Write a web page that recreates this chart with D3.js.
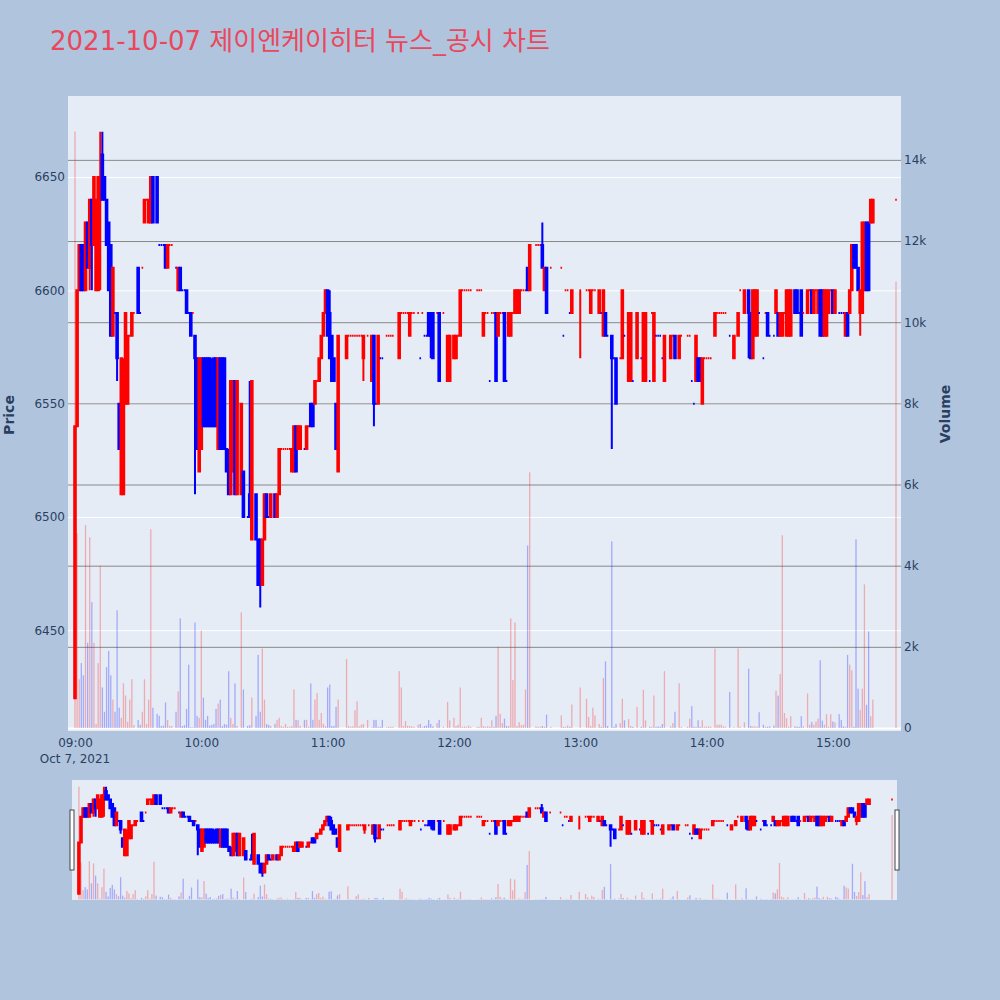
<!DOCTYPE html>
<html>
<head>
<meta charset="utf-8">
<script src="https://cdn.jsdelivr.net/npm/d3@7"></script>
<style>
  body { margin: 0; background: #b0c4de; }
  text { font-family: "DejaVu Sans", "Noto Sans CJK KR", sans-serif; }
</style>
</head>
<body>
<div id="chart"></div>
<script>
const tradeDay = "2021-10-07";
const title = "2021-10-07 제이엔케이히터 뉴스_공시 차트";

const times = [
  "09:00","09:01","09:02","09:03","09:04","09:05","09:06","09:07","09:08","09:09",
  "09:10","09:11","09:12","09:13","09:14","09:15","09:16","09:17","09:18","09:19",
  "09:20","09:21","09:22","09:23","09:24","09:25","09:26","09:27","09:28","09:30",
  "09:31","09:32","09:33","09:34","09:35","09:36","09:37","09:39","09:40","09:41",
  "09:42","09:43","09:44","09:45","09:46","09:48","09:49","09:50","09:51","09:52",
  "09:53","09:54","09:55","09:56","09:57","09:58","09:59","10:00","10:01","10:02",
  "10:03","10:04","10:05","10:06","10:07","10:08","10:09","10:10","10:11","10:12",
  "10:13","10:14","10:15","10:16","10:17","10:19","10:20","10:22","10:23","10:24",
  "10:26","10:27","10:28","10:29","10:30","10:31","10:32","10:33","10:35","10:36",
  "10:37","10:38","10:39","10:40","10:41","10:42","10:43","10:44","10:45","10:46",
  "10:47","10:49","10:50","10:51","10:52","10:53","10:54","10:55","10:56","10:57",
  "10:58","10:59","11:00","11:01","11:02","11:03","11:04","11:05","11:09","11:10",
  "11:11","11:12","11:13","11:14","11:15","11:16","11:17","11:19","11:21","11:22",
  "11:23","11:24","11:25","11:26","11:28","11:29","11:30","11:31","11:34","11:35",
  "11:36","11:37","11:38","11:39","11:40","11:41","11:43","11:44","11:45","11:46",
  "11:47","11:48","11:49","11:50","11:52","11:53","11:55","11:57","11:58","12:00",
  "12:01","12:02","12:03","12:04","12:05","12:06","12:07","12:08","12:11","12:12",
  "12:13","12:14","12:15","12:16","12:17","12:18","12:19","12:20","12:21","12:22",
  "12:23","12:24","12:25","12:26","12:27","12:28","12:29","12:30","12:31","12:32",
  "12:33","12:34","12:35","12:36","12:39","12:40","12:41","12:42","12:43","12:44",
  "12:46","12:51","12:52","12:53","12:54","12:55","12:56","13:00","13:03","13:04",
  "13:05","13:06","13:07","13:09","13:10","13:11","13:12","13:13","13:15","13:16",
  "13:17","13:19","13:20","13:21","13:23","13:24","13:25","13:27","13:29","13:30",
  "13:31","13:33","13:34","13:35","13:36","13:37","13:38","13:39","13:40","13:43",
  "13:44","13:45","13:47","13:48","13:51","13:52","13:53","13:54","13:55","13:56",
  "13:57","13:58","13:59","14:00","14:01","14:02","14:04","14:05","14:06","14:07",
  "14:08","14:09","14:11","14:13","14:15","14:16","14:18","14:20","14:21","14:22",
  "14:23","14:24","14:25","14:27","14:28","14:29","14:30","14:32","14:33","14:34",
  "14:35","14:36","14:37","14:38","14:39","14:40","14:42","14:43","14:44","14:45",
  "14:46","14:48","14:49","14:50","14:51","14:52","14:53","14:54","14:55","14:56",
  "14:57","14:58","14:59","15:00","15:01","15:03","15:04","15:05","15:06","15:07",
  "15:08","15:09","15:10","15:11","15:12","15:13","15:14","15:15","15:16","15:17",
  "15:18","15:19","15:30"
];

const open = [
  6420,6540,6600,6620,6620,6600,6630,6610,6640,6620,
  6600,6600,6640,6660,6650,6640,6630,6620,6580,6590,
  6590,6550,6510,6510,6550,6550,6580,6580,6590,6610,
  6590,6610,6630,6640,6630,6630,6650,6650,6620,6620,
  6620,6620,6610,6620,6620,6610,6600,6610,6600,6600,
  6600,6590,6590,6590,6580,6570,6520,6530,6570,6570,
  6570,6570,6560,6570,6570,6530,6570,6570,6570,6530,
  6520,6510,6520,6560,6510,6510,6520,6500,6510,6490,
  6510,6490,6490,6470,6490,6510,6500,6500,6510,6500,
  6510,6530,6530,6530,6530,6530,6520,6520,6540,6530,
  6530,6530,6530,6540,6550,6550,6550,6560,6560,6570,
  6580,6590,6600,6590,6580,6570,6550,6520,6570,6580,
  6580,6580,6580,6580,6580,6580,6570,6580,6560,6580,
  6550,6550,6570,6570,6580,6580,6580,6580,6570,6590,
  6590,6590,6590,6580,6590,6590,6590,6570,6590,6580,
  6580,6590,6590,6590,6590,6590,6590,6560,6560,6570,
  6570,6580,6580,6600,6600,6600,6600,6600,6600,6600,
  6600,6580,6590,6590,6560,6590,6590,6590,6580,6590,
  6590,6590,6560,6580,6580,6590,6590,6590,6590,6600,
  6600,6600,6610,6600,6620,6620,6620,6620,6600,6610,
  6610,6610,6580,6600,6600,6590,6590,6600,6600,6600,
  6590,6600,6600,6590,6590,6580,6590,6580,6580,6570,
  6570,6570,6570,6580,6560,6560,6560,6570,6570,6560,
  6560,6560,6590,6560,6580,6580,6580,6570,6560,6570,
  6580,6580,6570,6580,6580,6580,6560,6550,6560,6570,
  6570,6550,6570,6570,6570,6570,6580,6590,6590,6590,
  6590,6590,6580,6570,6580,6600,6590,6600,6590,6570,
  6580,6580,6590,6570,6590,6590,6580,6580,6590,6590,
  6580,6580,6590,6580,6580,6580,6600,6600,6590,6600,
  6590,6590,6600,6600,6590,6600,6590,6600,6600,6580,
  6580,6590,6600,6600,6590,6590,6590,6590,6580,6590,
  6590,6600,6620,6620,6610,6590,6590,6600,6630,6630,
  6630,6630,6640
];

const high = [
  6540,6600,6620,6620,6620,6630,6630,6640,6640,6650,
  6640,6650,6670,6670,6650,6640,6630,6620,6610,6590,
  6590,6550,6570,6570,6590,6580,6580,6590,6590,6610,
  6590,6610,6640,6640,6640,6650,6650,6650,6620,6620,
  6620,6620,6620,6620,6620,6610,6610,6610,6600,6600,
  6600,6590,6590,6590,6580,6570,6570,6570,6570,6570,
  6570,6570,6570,6570,6570,6570,6570,6570,6570,6530,
  6530,6560,6560,6560,6560,6550,6520,6500,6560,6560,
  6510,6490,6490,6490,6510,6510,6500,6510,6510,6510,
  6530,6530,6530,6530,6530,6530,6530,6540,6540,6540,
  6540,6530,6540,6540,6550,6550,6560,6560,6570,6580,
  6590,6600,6600,6600,6580,6570,6550,6580,6580,6580,
  6580,6580,6580,6580,6580,6580,6580,6580,6580,6580,
  6550,6580,6570,6570,6580,6580,6580,6580,6590,6590,
  6590,6590,6590,6590,6590,6590,6590,6570,6590,6580,
  6580,6590,6590,6590,6590,6590,6590,6580,6580,6580,
  6580,6580,6600,6600,6600,6600,6600,6600,6600,6600,
  6600,6590,6590,6590,6560,6590,6590,6590,6590,6590,
  6590,6590,6560,6590,6590,6590,6600,6600,6600,6600,
  6600,6600,6610,6620,6620,6620,6620,6630,6610,6610,
  6610,6610,6580,6600,6600,6590,6600,6600,6600,6600,
  6600,6600,6600,6600,6590,6600,6590,6580,6580,6570,
  6570,6570,6600,6580,6590,6590,6560,6590,6570,6590,
  6590,6560,6590,6590,6580,6580,6580,6570,6580,6580,
  6580,6580,6580,6580,6580,6580,6560,6550,6580,6570,
  6570,6570,6570,6570,6570,6570,6590,6590,6590,6590,
  6590,6590,6580,6580,6590,6600,6600,6600,6590,6600,
  6600,6600,6590,6570,6590,6590,6580,6580,6600,6590,
  6590,6590,6590,6600,6600,6600,6600,6600,6590,6600,
  6590,6600,6600,6600,6600,6600,6600,6600,6600,6600,
  6600,6600,6600,6600,6600,6590,6590,6590,6590,6590,
  6600,6620,6620,6620,6610,6600,6630,6630,6630,6630,
  6640,6640,6640
];

const low = [
  6420,6540,6600,6600,6600,6600,6610,6600,6600,6620,
  6600,6600,6600,6640,6640,6620,6600,6580,6580,6590,
  6560,6530,6510,6510,6550,6550,6580,6580,6590,6590,
  6590,6610,6630,6640,6630,6630,6630,6630,6620,6620,
  6620,6610,6610,6620,6620,6610,6600,6600,6600,6600,
  6590,6590,6580,6590,6510,6530,6520,6530,6540,6540,
  6540,6540,6540,6540,6540,6530,6530,6530,6530,6520,
  6510,6510,6520,6510,6510,6510,6500,6500,6500,6490,
  6490,6470,6460,6470,6490,6500,6500,6500,6500,6500,
  6510,6530,6530,6530,6530,6530,6520,6520,6520,6530,
  6530,6530,6530,6540,6540,6540,6550,6560,6560,6570,
  6580,6590,6580,6570,6560,6560,6530,6520,6570,6580,
  6580,6580,6580,6580,6580,6580,6560,6580,6560,6540,
  6550,6550,6570,6570,6580,6580,6580,6580,6570,6590,
  6590,6590,6590,6580,6590,6590,6590,6570,6590,6580,
  6580,6580,6570,6570,6590,6560,6590,6560,6560,6570,
  6570,6580,6580,6600,6600,6600,6600,6600,6600,6600,
  6600,6580,6590,6590,6560,6590,6590,6560,6580,6590,
  6590,6560,6560,6580,6580,6590,6590,6590,6590,6600,
  6600,6600,6600,6600,6620,6620,6620,6610,6600,6590,
  6610,6610,6580,6600,6600,6590,6590,6570,6600,6600,
  6590,6600,6600,6590,6590,6580,6580,6580,6530,6570,
  6550,6570,6570,6580,6560,6560,6560,6570,6570,6560,
  6560,6560,6590,6560,6580,6580,6580,6570,6560,6570,
  6580,6570,6570,6580,6580,6580,6560,6550,6560,6560,
  6560,6550,6570,6570,6570,6570,6580,6590,6590,6590,
  6590,6590,6580,6570,6580,6600,6590,6570,6570,6570,
  6580,6580,6590,6570,6590,6580,6580,6580,6590,6580,
  6580,6580,6590,6580,6580,6580,6590,6590,6590,6580,
  6590,6590,6600,6590,6590,6600,6590,6580,6580,6580,
  6580,6590,6600,6590,6590,6590,6590,6590,6580,6580,
  6590,6600,6610,6610,6600,6580,6590,6600,6600,6600,
  6630,6630,6640
];

const close = [
  6540,6600,6620,6600,6600,6630,6610,6640,6620,6650,
  6640,6650,6650,6640,6640,6620,6600,6580,6610,6590,
  6570,6530,6570,6560,6590,6580,6580,6590,6590,6590,
  6590,6610,6640,6640,6640,6650,6630,6630,6620,6620,
  6620,6610,6620,6620,6620,6610,6610,6600,6600,6600,
  6590,6590,6580,6590,6570,6530,6570,6570,6540,6540,
  6540,6540,6540,6540,6540,6570,6530,6530,6530,6520,
  6510,6560,6560,6510,6560,6550,6500,6500,6500,6560,
  6490,6470,6470,6490,6510,6500,6500,6510,6500,6510,
  6530,6530,6530,6530,6530,6530,6530,6540,6520,6540,
  6540,6530,6540,6540,6540,6540,6560,6560,6570,6580,
  6590,6600,6580,6570,6560,6560,6530,6580,6580,6580,
  6580,6580,6580,6580,6580,6580,6580,6580,6580,6550,
  6550,6580,6570,6570,6580,6580,6580,6580,6590,6590,
  6590,6590,6590,6590,6590,6590,6590,6570,6590,6580,
  6580,6580,6580,6570,6590,6560,6590,6580,6580,6580,
  6580,6580,6600,6600,6600,6600,6600,6600,6600,6600,
  6600,6590,6590,6590,6560,6590,6590,6560,6590,6590,
  6590,6560,6560,6590,6590,6590,6600,6600,6600,6600,
  6600,6600,6600,6620,6620,6620,6620,6610,6610,6590,
  6610,6610,6580,6600,6600,6590,6600,6600,6600,6600,
  6600,6600,6600,6600,6590,6600,6580,6580,6570,6570,
  6550,6570,6600,6580,6590,6590,6560,6590,6570,6590,
  6590,6560,6590,6590,6580,6580,6580,6570,6580,6580,
  6580,6570,6580,6580,6580,6580,6560,6550,6580,6560,
  6560,6570,6570,6570,6570,6570,6590,6590,6590,6590,
  6590,6590,6580,6580,6590,6600,6600,6590,6570,6600,
  6600,6600,6590,6570,6590,6580,6580,6580,6600,6580,
  6590,6590,6590,6600,6600,6600,6590,6590,6590,6580,
  6590,6600,6600,6590,6600,6600,6600,6580,6580,6600,
  6600,6600,6600,6590,6600,6590,6590,6590,6590,6580,
  6600,6620,6610,6610,6600,6600,6630,6630,6600,6600,
  6640,6640,6640
];

const volume = [
  14700,4800,1200,1600,1300,5000,2100,4700,3100,2100,
  100,1600,4000,1000,400,1500,1900,1300,700,400,
  2900,500,250,1100,800,150,700,1200,70,200,
  80,400,1200,100,700,4900,500,350,300,50,
  60,630,200,50,50,400,900,2700,50,70,
  470,1560,20,20,2600,300,250,2400,750,200,
  300,60,80,100,470,600,700,50,100,80,
  1400,250,100,1100,50,2850,950,50,70,750,
  300,1800,400,1960,700,100,80,50,100,200,
  250,50,30,100,30,30,50,950,200,200,
  50,200,200,30,1100,200,700,860,200,370,
  100,50,1000,1070,50,50,520,700,1700,50,
  30,40,440,660,40,80,100,200,20,200,
  200,30,30,200,20,30,30,30,1400,1000,
  50,170,50,50,40,30,80,100,20,50,
  60,200,100,40,120,200,30,640,190,250,
  50,80,1000,30,40,30,60,30,30,30,
  250,50,30,40,30,190,30,300,2000,350,
  120,230,50,50,2700,1180,2600,50,140,70,
  80,950,4500,6300,40,30,30,50,30,330,
  30,310,30,30,60,30,580,1000,720,270,
  50,500,310,100,30,1230,1640,50,4600,30,
  100,120,720,190,220,50,30,520,30,940,
  190,30,30,800,30,40,30,100,1400,40,
  120,400,1100,30,30,230,540,30,30,190,
  30,190,30,40,40,30,1960,80,80,80,
  40,30,890,20,1960,30,140,1460,50,40,
  40,30,390,80,30,30,40,60,920,800,
  1330,4750,370,240,30,290,40,30,30,290,
  40,850,80,150,80,160,230,1670,180,80,
  340,30,340,160,140,340,200,40,30,1800,
  1560,1420,30,4650,970,450,970,3540,570,2380,
  290,700,11000
];

const priceTicks = [6450, 6500, 6550, 6600, 6650];
const volumeTicks = [0, 2000, 4000, 6000, 8000, 10000, 12000, 14000];
const hourTicks = ["09:00", "10:00", "11:00", "12:00", "13:00", "14:00", "15:00"];
const sessionEnds = ["09:00", "15:30"];

const parseTime = d3.timeParse("%Y-%m-%d %H:%M");
const toDate = t => parseTime(`${tradeDay} ${t}`);

// plotly style direction: flat candles follow the previous close
let prevClose = null, prevUp = true;
const data = times.map((t, i) => {
  const o = open[i], c = close[i];
  let up;
  if (c > o) up = true;
  else if (c < o) up = false;
  else if (prevClose === null || c === prevClose) up = prevUp;
  else up = c > prevClose;
  prevUp = up;
  prevClose = c;
  return { date: toDate(t), open: o, high: high[i], low: low[i], close: c, volume: volume[i], up };
});

const W = 1000, H = 1000;
const plot = { left: 68, right: 901, top: 96, bottom: 731 };
const slider = { left: 72, right: 897, top: 780, bottom: 900 };
const upColor = "#ff0000", downColor = "#0000ff";
const fontColor = "#2a3f5f";

const svg = d3.select("#chart")
  .append("svg")
    .attr("width", W)
    .attr("height", H);

svg.append("rect")
  .attr("width", W)
  .attr("height", H)
  .attr("fill", "#b0c4de");

const xSc = d3.scaleTime()
  .domain(sessionEnds.map(toDate))
  .range([75, 896]);

const ySc = d3.scaleLinear()
  .domain([6405.5, 6685.8])
  .range([plot.bottom, plot.top]);

const vSc = d3.scaleLinear()
  .domain([-74, 15574])
  .range([plot.bottom, plot.top]);

const xSl = d3.scaleTime()
  .domain([xSc.invert(plot.left), xSc.invert(plot.right)])
  .range([slider.left, slider.right]);
const ySl = ySc.copy().range([slider.bottom, slider.top]);
const vSl = vSc.copy().range([slider.bottom, slider.top]);

const defs = svg.append("defs");
defs.append("clipPath").attr("id", "clipMain")
  .append("rect")
    .attr("x", plot.left).attr("y", plot.top)
    .attr("width", plot.right - plot.left).attr("height", plot.bottom - plot.top);
defs.append("clipPath").attr("id", "clipSlider")
  .append("rect")
    .attr("x", slider.left).attr("y", slider.top)
    .attr("width", slider.right - slider.left).attr("height", slider.bottom - slider.top);

// main plot background + grids
svg.append("rect")
  .attr("x", plot.left).attr("y", plot.top)
  .attr("width", plot.right - plot.left).attr("height", plot.bottom - plot.top)
  .attr("fill", "#e5ecf6");

svg.append("g")
  .attr("transform", `translate(${plot.left},0)`)
  .call(d3.axisLeft(ySc).tickValues(priceTicks).tickSize(-(plot.right - plot.left)).tickFormat(""))
  .call(g => g.select(".domain").remove())
  .call(g => g.selectAll("line").attr("stroke", "#ffffff").attr("stroke-width", 1));

svg.append("g")
  .attr("transform", `translate(${plot.left},0)`)
  .call(d3.axisLeft(vSc).tickValues(volumeTicks).tickSize(-(plot.right - plot.left)).tickFormat(""))
  .call(g => g.select(".domain").remove())
  .call(g => g.selectAll("line")
    .attr("stroke", d => d === 0 ? "#ffffff" : "#888888")
    .attr("stroke-width", d => d === 0 ? 2 : 1));

const half = 0.8;
const candlePath = (d, x, y) => {
  const cx = x(d.date), yo = y(d.open), yc = y(d.close);
  const top = Math.min(yo, yc), bot = Math.max(yo, yc);
  return `M${cx - half},${yo}H${cx + half}V${yc}H${cx - half}Z` +
    `M${cx},${y(d.high)}V${top}M${cx},${bot}V${y(d.low)}`;
};

const drawCandles = (g, x, y, v) => {
  g.selectAll(".candle")
    .data(data)
    .join("path")
      .attr("class", "candle")
      .attr("d", d => candlePath(d, x, y))
      .attr("fill", d => d.up ? upColor : downColor)
      .attr("stroke", d => d.up ? upColor : downColor)
      .attr("stroke-width", 2);

  g.selectAll(".vol")
    .data(data)
    .join("rect")
      .attr("class", "vol")
      .attr("x", d => x(d.date) - 0.65)
      .attr("width", 1.3)
      .attr("y", d => v(d.volume))
      .attr("height", d => v(0) - v(d.volume))
      .attr("fill", d => d.up ? upColor : downColor)
      .attr("fill-opacity", 0.28);
};

svg.append("g")
  .attr("clip-path", "url(#clipMain)")
  .call(g => drawCandles(g, xSc, ySc, vSc));

// axes labels
const styleLabels = g => g.selectAll("text")
  .attr("fill", fontColor)
  .style("font-size", "12px")
  .style("font-family", "'DejaVu Sans', sans-serif");

svg.append("g")
  .attr("transform", `translate(${plot.left},0)`)
  .call(d3.axisLeft(ySc).tickValues(priceTicks).tickSize(0).tickPadding(3).tickFormat(d3.format("d")))
  .call(g => g.select(".domain").remove())
  .call(styleLabels);

svg.append("g")
  .attr("transform", `translate(${plot.right},0)`)
  .call(d3.axisRight(vSc).tickValues(volumeTicks).tickSize(0).tickPadding(3)
    .tickFormat(d => d === 0 ? "0" : `${d / 1000}k`))
  .call(g => g.select(".domain").remove())
  .call(styleLabels);

svg.append("g")
  .attr("transform", `translate(0,${plot.bottom})`)
  .call(d3.axisBottom(xSc).tickValues(hourTicks.map(toDate)).tickSize(0).tickPadding(7)
    .tickFormat(d3.timeFormat("%H:%M")))
  .call(g => g.select(".domain").remove())
  .call(styleLabels);

svg.append("text")
  .attr("x", xSc(toDate("09:00")))
  .attr("y", 763)
  .attr("text-anchor", "middle")
  .attr("fill", fontColor)
  .style("font-size", "12px")
  .text(d3.timeFormat("%b %-d, %Y")(toDate("09:00")));

svg.append("text")
  .attr("transform", "translate(14,415) rotate(-90)")
  .attr("text-anchor", "middle")
  .attr("fill", fontColor)
  .style("font-size", "14px")
  .style("font-weight", "bold")
  .text("Price");

svg.append("text")
  .attr("transform", "translate(950,414) rotate(-90)")
  .attr("text-anchor", "middle")
  .attr("fill", fontColor)
  .style("font-size", "14px")
  .style("font-weight", "bold")
  .text("Volume");

svg.append("text")
  .attr("x", 50)
  .attr("y", 50)
  .attr("fill", "#e9485c")
  .style("font-size", "26px")
  .text(title);

// range slider
svg.append("rect")
  .attr("x", slider.left).attr("y", slider.top)
  .attr("width", slider.right - slider.left).attr("height", slider.bottom - slider.top)
  .attr("fill", "#e5ecf6");

svg.append("g")
  .attr("clip-path", "url(#clipSlider)")
  .call(g => drawCandles(g, xSl, ySl, vSl));

svg.selectAll(".handle")
  .data([slider.left - 2, slider.right - 2])
  .join("rect")
    .attr("class", "handle")
    .attr("x", d => d)
    .attr("y", 810)
    .attr("width", 4)
    .attr("height", 60)
    .attr("fill", "#ffffff")
    .attr("stroke", "#444444")
    .attr("stroke-width", 1);
</script>
</body>
</html>
